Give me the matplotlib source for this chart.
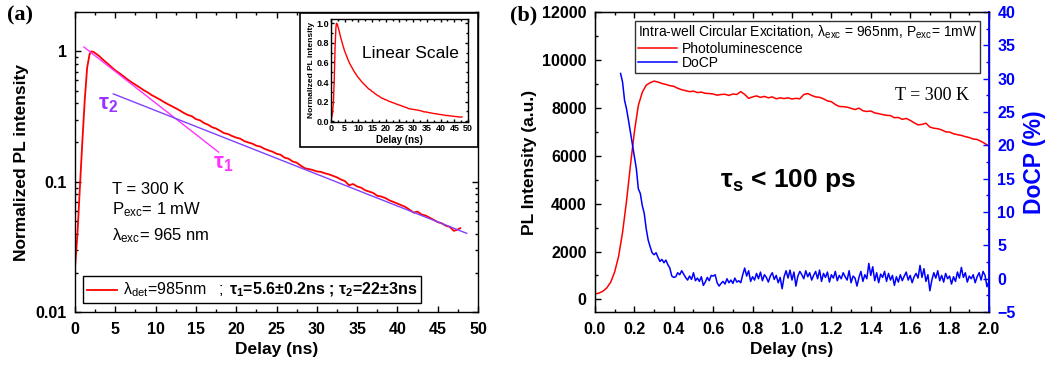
import numpy as np
import matplotlib
matplotlib.use("Agg")
import matplotlib.pyplot as plt
from matplotlib.ticker import MultipleLocator, LogLocator, NullFormatter, FormatStrFormatter
from matplotlib.patches import Rectangle
from matplotlib.lines import Line2D
from matplotlib.offsetbox import AnchoredOffsetbox, HPacker, TextArea, DrawingArea

plt.rcParams['font.family'] = ['Liberation Sans', 'DejaVu Sans']
plt.rcParams['mathtext.fontset'] = 'custom'
plt.rcParams['mathtext.rm'] = 'Liberation Sans'
plt.rcParams['mathtext.it'] = 'Liberation Sans:italic'
plt.rcParams['mathtext.bf'] = 'Liberation Sans:bold'

# ---------------- Panel (a) data: normalized PL decay ----------------
t_a = [0, 0.3, 0.6, 0.9, 1.2, 1.5, 1.8, 2.0, 2.3, 2.6, 3.0, 3.5, 4.0, 4.5, 5.0, 5.5,
       6.0, 6.5, 7.0, 7.5, 8.0, 8.5, 9.0, 9.5, 10.0, 10.5, 11.0, 11.5, 12.0, 12.5,
       13.0, 13.5, 14.0, 14.5, 15.0, 15.5, 16.0, 16.5, 17.0, 17.5, 18.0, 18.5,
       19.0, 19.5, 20.0, 20.5, 21.0, 21.5, 22.0, 22.5, 23.0, 23.5, 24.0, 24.5,
       25.0, 25.5, 26.0, 26.5, 27.0, 27.5, 28.0, 28.5, 29.0, 29.5, 30.0, 30.5,
       31.0, 31.5, 32.0, 32.5, 33.0, 33.5, 34.0, 34.5, 35.0, 35.5, 36.0, 36.5,
       37.0, 37.5, 38.0, 38.5, 39.0, 39.5, 40.0, 40.5, 41.0, 41.5, 42.0, 42.5,
       43.0, 43.5, 44.0, 44.5, 45.0, 45.5, 46.0, 46.5, 47.0, 47.5, 47.8]
pl_a = [0.022, 0.04, 0.09, 0.2, 0.42, 0.75, 0.95, 1.0, 0.99, 0.96, 0.92, 0.86, 0.81,
        0.76, 0.715, 0.68, 0.645, 0.61, 0.58, 0.555, 0.53, 0.505, 0.485, 0.462,
        0.445, 0.428, 0.41, 0.394, 0.38, 0.366, 0.352, 0.337, 0.325, 0.318, 0.302,
        0.296, 0.282, 0.274, 0.262, 0.256, 0.246, 0.236, 0.232, 0.224, 0.218, 0.214,
        0.205, 0.2, 0.196, 0.189, 0.186, 0.179, 0.174, 0.170, 0.164, 0.161, 0.153,
        0.150, 0.143, 0.140, 0.133, 0.127, 0.125, 0.123, 0.120, 0.119, 0.116, 0.114,
        0.111, 0.108, 0.104, 0.101, 0.094, 0.096, 0.092, 0.09, 0.086, 0.084, 0.082,
        0.078, 0.077, 0.075, 0.072, 0.07, 0.068, 0.066, 0.064, 0.061, 0.058, 0.059,
        0.056, 0.055, 0.053, 0.051, 0.049, 0.048, 0.046, 0.045, 0.042, 0.043, 0.044]

# fit lines (amplitude at start time, decay constant as drawn, time span)
fit1_t = [1.1, 17.8]
fit1_amp, fit1_tau = 1.08, 9.0
fit2_t = [4.75, 48.6]
fit2_amp, fit2_tau = 0.472, 17.8

# ---------------- Panel (b) data ----------------
pl_b = [230, 260, 340, 480, 720, 1150, 1800, 2800, 4100, 5600, 7000, 8100, 8650, 8950,
        9050, 9120, 9080, 9020, 8980, 8930, 8900, 8820, 8760, 8720, 8680, 8700, 8640,
        8660, 8610, 8600, 8580, 8530, 8560, 8570, 8520, 8580, 8560, 8680, 8560, 8400,
        8460, 8500, 8440, 8480, 8420, 8460, 8380, 8420, 8390, 8420, 8370, 8400, 8380,
        8560, 8600, 8520, 8460, 8440, 8380, 8290, 8260, 8140, 8060, 8050, 8030, 7980,
        7930, 7990, 7880, 7850, 7870, 7790, 7760, 7720, 7690, 7680, 7590, 7600, 7520,
        7560, 7480, 7380, 7290, 7310, 7360, 7200, 7150, 7130, 7080, 7000, 6990, 6920,
        6880, 6850, 6800, 6760, 6700, 6680, 6600, 6510, 6400]
pl_b_t0, pl_b_dt = 0.0, 0.02

docp = [30.8, 29.5, 26.8, 25.5, 23.8, 22.0, 20.2, 18.5, 16.5, 13.5, 12.8, 11.0, 9.8,
        7.5, 5.8, 4.8, 3.9, 3.6, 3.9, 3.2, 2.6, 2.9, 2.4, 2.8, 2.1, 1.6, 0.4, 0.2, 0.3,
        0.9, 0.6, 1.2, 0.7,
        0.2, -0.2, 0.4, -0.1, 0.9, -0.3, 0.1, -0.4, 0.3, -1.0, -0.5, 0.2, -0.3, 0.5,
        0.4, 0.6, -0.6, -1.1, -0.7, -0.4, -0.8, 0.0, -0.6, -0.2, -0.7, 0.1, -0.5, -0.3,
        -0.6, 0.6, 1.6, 0.4, 1.2, -0.4, 0.3, -0.2, 0.8, 0.0, 1.0, -0.3, 0.6, 0.2, -0.5,
        0.4, 0.9, -0.1, 0.5, -0.6, 0.2, -1.5, 0.3, 1.2, 0.1, 1.3, -0.2, 1.0, -1.1, 0.4,
        1.1, 0.6, 0.0, 1.2, 0.3, 0.9, -0.2, 0.5, 1.1, 0.0, 1.3, -0.4, 0.8, 0.2, 1.0,
        -0.5, 0.6, 0.1, 1.1, -0.3, 0.5, 0.0, 0.9, 0.3, -0.2, 1.2, -0.6, 0.4, 0.1, -1.1,
        0.2, 1.1, -0.4, 0.6, 0.0, 2.3, 0.5, 1.8, -0.3, 0.9, -0.6, 0.7, 0.2, 1.1, -0.4,
        0.8, -0.2, 0.5, -1.0, 0.3, -0.5, 0.6, -0.3, 0.4, 1.0, -0.2, 0.5, -0.6, 0.3, 0.8,
        0.1, 2.0, 0.2, 1.5, -0.4, 0.6, -1.8, -0.2, 0.9, 0.1, 1.2, -0.3, 0.5, -0.5, 0.8,
        0.0, 0.4, -0.8, 0.3, -0.4, 1.0, 0.1, 1.7, 0.2, 0.9, -0.5, 0.4, 0.0, 0.6, -0.6,
        0.3, 0.9, -0.2, 1.1, 0.5, -1.2, -0.4]
docp_t0, docp_dt = 0.13, 0.01

# ---------------- Figure ----------------
fig = plt.figure(figsize=(10.54, 3.68), dpi=100)


def style_ticks(ax, size=11.5, major_len=4, minor_len=2, pad=7.5):
    ax.tick_params(which='both', direction='in', top=True, right=True, width=1)
    ax.tick_params(which='major', length=major_len, labelsize=size, pad=pad)
    ax.tick_params(which='minor', length=minor_len)
    for lab in ax.get_xticklabels() + ax.get_yticklabels():
        lab.set_fontweight('bold')
    for s in ax.spines.values():
        s.set_linewidth(1.0)


# Panel (a)
axa = fig.add_axes([0.0712, 0.152, 0.3823, 0.815])
axa.plot(t_a, pl_a, color='#FF0000', lw=1.3)
f1t = np.array(fit1_t)
axa.plot(f1t, fit1_amp * np.exp(-(f1t - f1t[0]) / fit1_tau), color='#FF33FF', lw=1.0)
f2t = np.array(fit2_t)
axa.plot(f2t, fit2_amp * np.exp(-(f2t - f2t[0]) / fit2_tau), color='#8040FF', lw=1.0)
axa.set_yscale('log')
axa.set_xlim(0, 50)
axa.set_ylim(0.01, 2.0)
axa.xaxis.set_major_locator(MultipleLocator(5))
axa.xaxis.set_minor_locator(MultipleLocator(2.5))
axa.yaxis.set_minor_locator(LogLocator(base=10, subs=np.arange(2, 10)))
axa.yaxis.set_minor_formatter(NullFormatter())
axa.set_yticks([0.01, 0.1, 1])
axa.set_yticklabels(['0.01', '0.1', '1'])
style_ticks(axa)
axa.tick_params(axis='y', which='major', pad=6)
axa.set_xlabel('Delay (ns)', fontsize=12.5, fontweight='bold', labelpad=3)
axa.set_ylabel('Normalized PL intensity', fontsize=12.5, fontweight='bold', labelpad=5)

axa.text(0.091, 0.41, 'T = 300 K', transform=axa.transAxes, fontsize=12, va='center')
axa.text(0.091, 0.34, 'P$_{\\rm exc}$= 1 mW', transform=axa.transAxes, fontsize=12, va='center')
axa.text(0.091, 0.255, 'λ$_{\\rm exc}$= 965 nm', transform=axa.transAxes, fontsize=12, va='center')
axa.text(0.057, 0.693, 'τ$_\\mathbf{2}$', transform=axa.transAxes, fontsize=16,
         color='#9933FF', fontweight='bold', va='center')
axa.text(0.342, 0.497, 'τ$_\\mathbf{1}$', transform=axa.transAxes, fontsize=16,
         color='#FF33FF', fontweight='bold', va='center')

# legend box of (a): red sample line, regular text, bold fit results
leg_fs = 11.5
da = DrawingArea(22, 8, 0, 0)
da.add_artist(Line2D([0, 22], [4, 4], color='#FF0000', lw=1.3))
ta_reg = TextArea('λ$_{\\rm det}$=985nm   ;', textprops=dict(fontsize=leg_fs))
ta_bold = TextArea('τ$_\\mathbf{1}$=5.6±0.2ns ; τ$_\\mathbf{2}$=22±3ns',
                   textprops=dict(fontsize=leg_fs, fontweight='bold'))
hbox = HPacker(children=[da, ta_reg, ta_bold], align='center', pad=0, sep=4)
anch = AnchoredOffsetbox(loc='lower left', child=hbox, pad=0.25, borderpad=0, frameon=True,
                         prop=dict(size=leg_fs),
                         bbox_to_anchor=(0.0785, 0.1766), bbox_transform=fig.transFigure)
anch.patch.set_boxstyle('square', pad=0)
anch.patch.set_edgecolor('black')
anch.patch.set_linewidth(1.0)
axa.add_artist(anch)

fig.text(0.007, 0.958, '(a)', fontsize=16, fontweight='bold', family='Liberation Serif', va='center')

# Inset frame + inset
frame = Rectangle((0.2846, 0.6005), 0.1689, 0.3642, transform=fig.transFigure,
                  facecolor='white', edgecolor='black', lw=1.2, zorder=1)
fig.add_artist(frame)
axi = fig.add_axes([0.314, 0.6693, 0.130, 0.2783], zorder=2)
axi.plot(t_a, pl_a, color='#FF0000', lw=1.0)
axi.set_xlim(0, 50)
axi.set_ylim(-0.005, 1.04)
axi.xaxis.set_major_locator(MultipleLocator(5))
axi.yaxis.set_major_locator(MultipleLocator(0.2))
axi.yaxis.set_minor_locator(MultipleLocator(0.1))
axi.xaxis.set_minor_locator(MultipleLocator(2.5))
axi.yaxis.set_major_formatter(FormatStrFormatter('%.1f'))
style_ticks(axi, size=6.5, major_len=2.5, minor_len=1.2, pad=1.5)
axi.set_xlabel('Delay (ns)', fontsize=7, fontweight='bold', labelpad=1.5)
axi.set_ylabel('Normalized PL intensity', fontsize=6, fontweight='bold', labelpad=1)
axi.text(0.577, 0.665, 'Linear Scale', transform=axi.transAxes, fontsize=12.5, ha='center', va='center')

# Panel (b)
axb = fig.add_axes([0.5645, 0.152, 0.3738, 0.815])
tb = pl_b_t0 + pl_b_dt * np.arange(len(pl_b))
lp, = axb.plot(tb, pl_b, color='#FF0000', lw=1.1, label='Photoluminescence')
axb.set_xlim(0, 2.0)
axb.set_ylim(-530, 12000)
axb.xaxis.set_major_locator(MultipleLocator(0.2))
axb.xaxis.set_minor_locator(MultipleLocator(0.1))
axb.yaxis.set_major_locator(MultipleLocator(2000))
axb.yaxis.set_minor_locator(MultipleLocator(1000))
axb.xaxis.set_major_formatter(FormatStrFormatter('%.1f'))
style_ticks(axb)
axb.tick_params(axis='y', which='major', pad=6)
axb.tick_params(right=False, which='both')
axb.set_xlabel('Delay (ns)', fontsize=12.5, fontweight='bold', labelpad=3)
axb.set_ylabel('PL Intensity (a.u.)', fontsize=12.5, fontweight='bold', labelpad=4)

axr = axb.twinx()
td = docp_t0 + docp_dt * np.arange(len(docp))
ld, = axr.plot(td, docp, color='#0000FF', lw=1.1, label='DoCP')
axr.set_ylim(-5, 40)
axr.yaxis.set_major_locator(MultipleLocator(5))
axr.yaxis.set_minor_locator(MultipleLocator(2.5))
axr.tick_params(which='both', direction='in', colors='#0000FF', width=1)
axr.tick_params(which='major', length=4, labelsize=11.5, pad=6)
axr.tick_params(which='minor', length=2)
for lab in axr.get_yticklabels():
    lab.set_fontweight('bold')
axr.spines['right'].set_color('#0000FF')
axr.spines['right'].set_linewidth(1.3)
axr.set_ylabel('DoCP (%)', fontsize=16.5, fontweight='bold', color='#0000FF', labelpad=5)

leg_b = axr.legend([lp, ld], ['Photoluminescence', 'DoCP'],
                   title='Intra-well Circular Excitation, λ$_{\\rm exc}$ = 965nm, P$_{\\rm exc}$= 1mW',
                   loc='upper right', bbox_to_anchor=(0.9298, 0.9438), bbox_transform=fig.transFigure,
                   borderaxespad=0, fontsize=10, title_fontsize=10, frameon=True, fancybox=False,
                   handlelength=2.8, borderpad=0.2, labelspacing=0.05, handletextpad=0.4)
leg_b._legend_box.align = 'left'
leg_b.get_frame().set_edgecolor('black')
leg_b.get_frame().set_linewidth(1.0)

axb.text(0.761, 0.723, 'T = 300 K', transform=axb.transAxes, fontsize=13,
         family='Liberation Serif', ha='left', va='center')
axb.text(0.49, 0.44, 'τ$_\\mathbf{s}$ < 100 ps', transform=axb.transAxes, fontsize=19,
         fontweight='bold', ha='center', va='center')

fig.text(0.484, 0.958, '(b)', fontsize=16, fontweight='bold', family='Liberation Serif', va='center')

fig.savefig('out.png', dpi=100)
